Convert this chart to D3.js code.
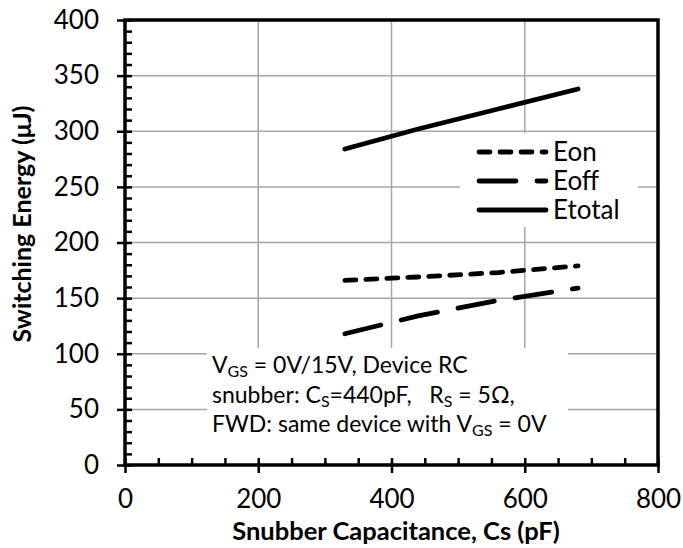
<!DOCTYPE html>
<html>
<head>
<meta charset="utf-8">
<script src="https://cdn.jsdelivr.net/npm/d3@7"></script>
<style>
  body { margin: 0; background: #fff; }
  svg text { font-family: Lato, "Open Sans", sans-serif; fill: #000; }
</style>
</head>
<body>
<svg id="chart" width="683" height="548"></svg>
<script>
// data
const capacitance = [330, 440, 560, 680];
const eon = [166, 169, 173, 179];
const eoff = [118, 134, 148, 159];
const etotal = [284, 302, 320, 338];

const seriesNames = ['Eon', 'Eoff', 'Etotal'];
const xTicks = [0, 200, 400, 600, 800];
const yTicks = [0, 50, 100, 150, 200, 250, 300, 350, 400];

const svg = d3.select('#chart');
const x = d3.scaleLinear().domain([0, 800]).range([125, 658]);
const y = d3.scaleLinear().domain([0, 400]).range([465, 20]);

// gridlines
const grid = svg.append('g').attr('stroke', '#a6a6a6').attr('stroke-width', 1.5);
grid.selectAll('.gx').data([200, 400, 600]).enter().append('line')
  .attr('x1', d => x(d)).attr('x2', d => x(d))
  .attr('y1', y(400)).attr('y2', y(0));
grid.selectAll('.gy').data(yTicks.filter(d => d > 0 && d < 400)).enter().append('line')
  .attr('x1', x(0)).attr('x2', x(800))
  .attr('y1', d => y(d)).attr('y2', d => y(d));

// white boxes behind legend and note
svg.append('rect').attr('x', 460).attr('y', 133).attr('width', 178).attr('height', 94).attr('fill', '#fff');
svg.append('rect').attr('x', 207).attr('y', 348).attr('width', 361).attr('height', 114).attr('fill', '#fff');

// series lines
const styles = {
  Eon: '11 10',
  Eoff: '37 21',
  Etotal: null
};
const seriesData = {
  Eon: eon,
  Eoff: eoff,
  Etotal: etotal
};
const line = d3.line().x(d => x(d[0])).y(d => y(d[1]));
seriesNames.forEach(name => {
  svg.append('path')
    .datum(capacitance.map((c, i) => [c, seriesData[name][i]]))
    .attr('d', line)
    .attr('fill', 'none')
    .attr('stroke', '#000')
    .attr('stroke-width', 4.8)
    .attr('stroke-linecap', 'round')
    .attr('stroke-linejoin', 'round')
    .attr('stroke-dasharray', styles[name]);
});

// axes
const axisStyle = g => {
  g.select('.domain').remove();
  g.selectAll('.tick line').attr('stroke', '#000').attr('stroke-width', 2.5);
  g.selectAll('.tick text').attr('font-size', 26).attr('font-family', 'Lato');
};

svg.append('g').attr('transform', `translate(${x(0)},0)`)
  .call(d3.axisLeft(y).tickValues(yTicks).tickSize(8).tickPadding(18))
  .call(axisStyle);
svg.append('g').attr('transform', `translate(${x(0)},0)`)
  .call(d3.axisRight(y).tickValues(d3.range(0, 401, 10)).tickSize(7).tickFormat(''))
  .call(axisStyle);
svg.append('g').attr('transform', `translate(0,${y(0)})`)
  .call(d3.axisBottom(x).tickValues(xTicks).tickSize(8).tickPadding(17))
  .call(axisStyle);
svg.append('g').attr('transform', `translate(0,${y(0)})`)
  .call(d3.axisTop(x).tickValues(d3.range(0, 801, 50)).tickSize(7).tickFormat(''))
  .call(axisStyle);

// frame: axis lines plus top/right border
svg.append('rect')
  .attr('x', x(0)).attr('y', y(400))
  .attr('width', x(800) - x(0)).attr('height', y(0) - y(400))
  .attr('fill', 'none').attr('stroke', '#000').attr('stroke-width', 3.5);

// axis titles
svg.append('text')
  .attr('x', 396).attr('y', 540)
  .attr('text-anchor', 'middle')
  .attr('font-size', 25.5).attr('font-weight', 'bold')
  .text('Snubber Capacitance, Cs (pF)');
svg.append('text')
  .attr('transform', 'translate(31,224) rotate(-90)')
  .attr('text-anchor', 'middle')
  .attr('font-size', 25).attr('font-weight', 'bold')
  .text('Switching Energy (\u03bcJ)');

// legend
const legend = svg.append('g');
seriesNames.forEach((name, i) => {
  const cy = 152 + i * 29;
  legend.append('path')
    .attr('d', `M479,${cy}H546`)
    .attr('stroke', '#000').attr('stroke-width', 4.8)
    .attr('stroke-linecap', 'round')
    .attr('stroke-dasharray', styles[name]);
  legend.append('text')
    .attr('x', 553).attr('y', cy + 9)
    .attr('font-size', 26)
    .text(name);
});

// note, one text per line; pieces are [text, isSubscript]
const noteLines = [
  [['V', false], ['GS', true], [' = 0V/15V, Device RC', false]],
  [['snubber: C', false], ['S', true], ['=440pF,\u00a0\u00a0\u00a0R', false], ['S', true], [' = 5\u03a9,', false]],
  [['FWD: same device with V', false], ['GS', true], [' = 0V', false]]
];
noteLines.forEach((parts, i) => {
  const t = svg.append('text')
    .attr('x', 212).attr('y', 373 + i * 29.5)
    .attr('font-size', 23);
  let down = false;
  parts.forEach(([s, isSub]) => {
    const dy = isSub === down ? 0 : (isSub ? 4 : -4);
    down = isSub;
    t.append('tspan')
      .attr('dy', dy)
      .attr('font-size', isSub ? 16 : 23)
      .text(s);
  });
});
</script>
</body>
</html>
